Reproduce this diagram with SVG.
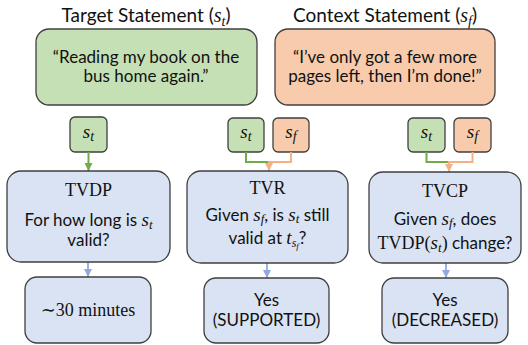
<svg xmlns="http://www.w3.org/2000/svg" width="528" height="345" viewBox="0 0 528 345">
<style>
.t{font-family:Lato,"Open Sans","Liberation Sans",sans-serif;fill:#111;text-anchor:middle}
.s{font-family:"Liberation Serif","DejaVu Serif",serif;fill:#111;text-anchor:middle}
.m{font-family:"Liberation Serif","DejaVu Serif",serif;font-style:italic}
.box{stroke:#3f3f3f;stroke-width:1.3}
.g{fill:#c5e0b4}.o{fill:#f8cbad}.b{fill:#dae3f3}
.cg{fill:none;stroke:#70ad47;stroke-width:2}
.co{fill:none;stroke:#f4b183;stroke-width:2}
.cb{fill:none;stroke:#8faadc;stroke-width:1.8}
</style>
<defs>
<marker id="ag" markerUnits="userSpaceOnUse" markerWidth="9" markerHeight="8" refX="8" refY="4" orient="auto"><path d="M0,0L8,4L0,8z" fill="#70ad47"/></marker>
<marker id="ao" markerUnits="userSpaceOnUse" markerWidth="9" markerHeight="8" refX="8" refY="4" orient="auto"><path d="M0,0L8,4L0,8z" fill="#f4b183"/></marker>
<marker id="ab" markerUnits="userSpaceOnUse" markerWidth="9" markerHeight="8" refX="8" refY="4" orient="auto"><path d="M0,0L8,4L0,8z" fill="#8faadc"/></marker>
</defs>
<rect width="528" height="345" fill="#fff"/>

<g id="target">
<text class="t" x="146" y="22" font-size="19">Target Statement (<tspan class="m" font-size="20">s</tspan><tspan class="m" font-size="14" dy="4">t</tspan><tspan dy="-4">)</tspan></text>
<rect class="box g" x="36" y="29" width="221" height="76" rx="13"/>
<text class="t" x="146" y="63" font-size="17">“Reading my book on the</text>
<text class="t" x="146" y="82" font-size="17">bus home again.”</text>
</g>

<g id="context">
<text class="t" x="385" y="22" font-size="19">Context Statement (<tspan class="m" font-size="20">s</tspan><tspan class="m" font-size="14" dy="4">f</tspan><tspan dy="-4">)</tspan></text>
<rect class="box o" x="275" y="29" width="220" height="76" rx="13"/>
<text class="t" x="385" y="63" font-size="17">“I’ve only got a few more</text>
<text class="t" x="385" y="82" font-size="17">pages left, then I’m done!”</text>
</g>

<g id="st1">
<rect class="box g" x="70" y="117" width="37" height="35" rx="5"/>
<text class="s" x="88.5" y="138" font-size="19"><tspan class="m">s</tspan><tspan class="m" font-size="14" dy="3">t</tspan></text>
</g>
<g id="st2">
<rect class="box g" x="228" y="118" width="36" height="34" rx="5"/>
<text class="s" x="246" y="138" font-size="19"><tspan class="m">s</tspan><tspan class="m" font-size="14" dy="3">t</tspan></text>
</g>
<g id="sf2">
<rect class="box o" x="273" y="118" width="36" height="34" rx="5"/>
<text class="s" x="291" y="138" font-size="19"><tspan class="m">s</tspan><tspan class="m" font-size="14" dy="3">f</tspan></text>
</g>
<g id="st3">
<rect class="box g" x="408" y="118" width="37" height="34" rx="5"/>
<text class="s" x="426.5" y="138" font-size="19"><tspan class="m">s</tspan><tspan class="m" font-size="14" dy="3">t</tspan></text>
</g>
<g id="sf3">
<rect class="box o" x="454" y="118" width="37" height="34" rx="5"/>
<text class="s" x="472.5" y="138" font-size="19"><tspan class="m">s</tspan><tspan class="m" font-size="14" dy="3">f</tspan></text>
</g>

<g id="connectors">
<path class="cg" d="M88.5,152V171" marker-end="url(#ag)"/>
<path class="cg" d="M246,152V162H269"/>
<path class="co" d="M291,152V162H269V171" marker-end="url(#ao)"/>
<path class="cg" d="M426.5,152V162H449"/>
<path class="co" d="M472.5,152V162H449V172" marker-end="url(#ao)"/>
<path class="cb" d="M88,262V277" marker-end="url(#ab)"/>
<path class="cb" d="M267,263V278" marker-end="url(#ab)"/>
<path class="cb" d="M446,263V278" marker-end="url(#ab)"/>
</g>

<g id="tvdp">
<rect class="box b" x="7" y="171" width="163" height="91" rx="14"/>
<text class="s" x="88.5" y="196" font-size="18">TVDP</text>
<text class="t" x="88.5" y="226" font-size="17">For how long is <tspan class="m" font-size="19">s</tspan><tspan class="m" font-size="13" dy="3">t</tspan></text>
<text class="t" x="88.5" y="246" font-size="17">valid?</text>
</g>

<g id="tvr">
<rect class="box b" x="187" y="171" width="161" height="92" rx="14"/>
<text class="s" x="267.5" y="194" font-size="18">TVR</text>
<text class="t" x="267.5" y="221" font-size="17">Given <tspan class="m" font-size="19">s</tspan><tspan class="m" font-size="13" dy="2">f</tspan><tspan dy="-2">, is </tspan><tspan class="m" font-size="19">s</tspan><tspan class="m" font-size="13" dy="2">t</tspan><tspan dy="-2"> still</tspan></text>
<text class="t" x="267.5" y="244" font-size="17">valid at <tspan class="m" font-size="19">t</tspan><tspan class="m" font-size="12" dy="3">s</tspan><tspan class="m" font-size="9" dy="2">f</tspan><tspan dy="-5">?</tspan></text>
</g>

<g id="tvcp">
<rect class="box b" x="369" y="172" width="152" height="91" rx="14"/>
<text class="s" x="445" y="197" font-size="18">TVCP</text>
<text class="t" x="445" y="225" font-size="17">Given <tspan class="m" font-size="19">s</tspan><tspan class="m" font-size="13" dy="2">f</tspan><tspan dy="-2">, does</tspan></text>
<text class="t" x="445" y="249" font-size="17"><tspan font-family="Liberation Serif,serif" font-size="18">TVDP(</tspan><tspan class="m" font-size="19">s</tspan><tspan class="m" font-size="13" dy="3">t</tspan><tspan dy="-3" font-family="Liberation Serif,serif" font-size="18">)</tspan> change?</text>
</g>

<g id="ans1">
<rect class="box b" x="25" y="277" width="126" height="66" rx="12"/>
<text class="s" x="88" y="316" font-size="18">∼30 minutes</text>
</g>
<g id="ans2">
<rect class="box b" x="204" y="278" width="125" height="65" rx="12"/>
<text class="t" x="266.5" y="306" font-size="17">Yes</text>
<text class="t" x="266.5" y="326" font-size="17">(SUPPORTED)</text>
</g>
<g id="ans3">
<rect class="box b" x="382" y="278" width="126" height="65" rx="12"/>
<text class="t" x="445" y="306" font-size="17">Yes</text>
<text class="t" x="445" y="326" font-size="17">(DECREASED)</text>
</g>
</svg>
